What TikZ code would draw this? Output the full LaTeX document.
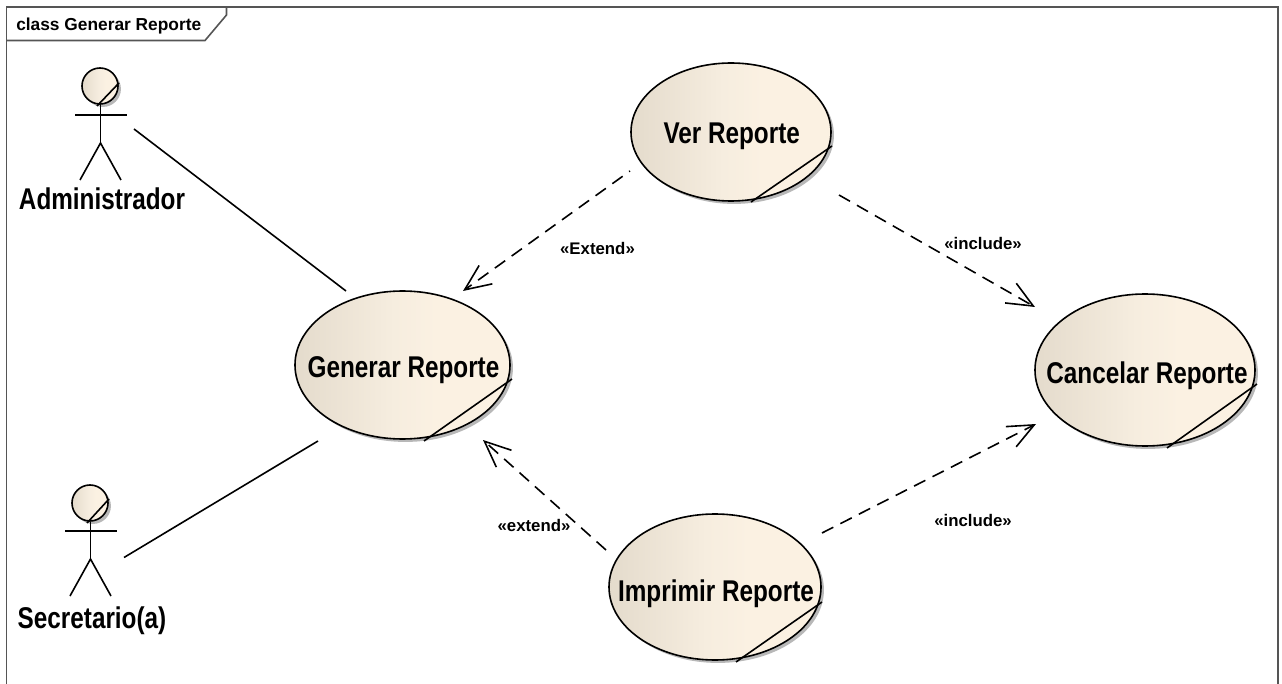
\documentclass[tikz,border=0pt]{standalone}
\usepackage{fontspec}
\setmainfont{Liberation Sans}
\newfontfamily\condfont[FakeStretch=0.81]{Liberation Sans}
\usetikzlibrary{shapes.geometric,arrows.meta,shadows}
\definecolor{ucL}{HTML}{E4DBCC}
\definecolor{ucM}{HTML}{F6EDDF}
\definecolor{ucR}{HTML}{FBF1E2}
\definecolor{frameC}{HTML}{555555}
\pgfdeclarehorizontalshading{ucshade}{100bp}{color(0bp)=(ucL); color(25bp)=(ucL); color(48bp)=(ucM); color(58bp)=(ucR); color(100bp)=(ucR)}
\tikzset{
  px/.style={x=0.75pt,y=-0.75pt},
  ln/.style={line width=1.2pt,black},
  dep/.style={ln,dash pattern=on 9.5pt off 6pt,-{Straight Barb[length=19.5pt,width=17pt,line width=1.2pt]}},
  usecase/.style={ellipse,draw=black,line width=1.2pt,inner sep=0pt,outer sep=0pt,
    shading=ucshade,drop shadow={shadow xshift=2.2pt,shadow yshift=-2.2pt,fill=black!28,opacity=1}},
  head/.style={usecase,minimum width=27pt,minimum height=27pt},
  uctext/.style={font=\condfont\bfseries\fontsize{22.5pt}{24pt}\selectfont,inner sep=0pt,anchor=base},
  small/.style={font=\bfseries\fontsize{12.6pt}{14pt}\selectfont,inner sep=0pt,anchor=base},
  title/.style={font=\bfseries\fontsize{13pt}{15pt}\selectfont,inner sep=0pt,anchor=base west},
}
\begin{document}
\begin{tikzpicture}[px]
\useasboundingbox[fill=white] (0,0) rectangle (1282,684);
% frame
\draw[frameC,line width=1.2pt] (6.5,684) -- (6.5,7) -- (1278,7) -- (1278,684);
\draw[frameC,line width=1.2pt] (6.5,40.5) -- (205,40.5) -- (226.5,15) -- (226.5,7);
\node[title] (frametitle) at (16,30.5) {class Generar Reporte};
% use cases
\node[usecase,minimum width=161.25pt,minimum height=111pt] (gen) at (402.5,365) {};
\node[usecase,minimum width=150pt,minimum height=103.5pt] (ver) at (731,132) {};
\node[usecase,minimum width=165pt,minimum height=114pt] (can) at (1145,370) {};
\node[usecase,minimum width=159pt,minimum height=109.5pt] (imp) at (715,587) {};
\node[uctext] (gent) at (403.5,378) {Generar Reporte};
\node[uctext] (vert) at (731.7,144) {Ver Reporte};
\node[uctext] (cant) at (1147,383) {Cancelar Reporte};
\node[uctext] (impt) at (716,601) {Imprimir Reporte};
% corner folds
\coordinate (genA) at (424,441); \coordinate (genB) at (512,379);
\coordinate (verA) at (751,202); \coordinate (verB) at (832,146);
\coordinate (canA) at (1167,448); \coordinate (canB) at (1257,384);
\coordinate (impA) at (736,662); \coordinate (impB) at (822,602);
\draw[ln] (genA) -- (genB);
\draw[ln] (verA) -- (verB);
\draw[ln] (canA) -- (canB);
\draw[ln] (impA) -- (impB);
% actor Administrador
\node[head] (h1) at (100,86) {};
\coordinate (h1a) at (97,106); \coordinate (h1b) at (119,83);
\coordinate (a1l) at (75,115); \coordinate (a1r) at (127,115);
\coordinate (b1t) at (100.5,104); \coordinate (b1b) at (100.5,143);
\coordinate (l1l) at (80,180); \coordinate (l1r) at (121,180);
\draw[ln] (h1a) -- (h1b);
\draw[ln] (a1l) -- (a1r);
\draw[ln] (b1t) -- (b1b);
\draw[ln] (l1l) -- (b1b) -- (l1r);
\node[uctext] (admin) at (102,210) {Administrador};
% actor Secretario
\node[head] (h2) at (90,503) {};
\coordinate (h2a) at (87,523); \coordinate (h2b) at (109,499);
\coordinate (a2l) at (65,531); \coordinate (a2r) at (117,531);
\coordinate (b2t) at (90.5,522); \coordinate (b2b) at (90.5,559);
\coordinate (l2l) at (70,596); \coordinate (l2r) at (111,596);
\draw[ln] (h2a) -- (h2b);
\draw[ln] (a2l) -- (a2r);
\draw[ln] (b2t) -- (b2b);
\draw[ln] (l2l) -- (b2b) -- (l2r);
\node[uctext] (secr) at (92,628) {Secretario(a)};
% associations
\coordinate (as1s) at (134,129); \coordinate (as1e) at (346,291);
\coordinate (as2s) at (124,557.5); \coordinate (as2e) at (318,441);
\draw[ln] (as1s) -- (as1e);
\draw[ln] (as2s) -- (as2e);
% dependencies
\coordinate (d1s) at (630,171); \coordinate (d1e) at (463,291);
\coordinate (d2s) at (839,195); \coordinate (d2e) at (1035,307);
\coordinate (d3s) at (606,550); \coordinate (d3e) at (483,440);
\coordinate (d4s) at (822,533); \coordinate (d4e) at (1036,424);
\draw[dep,dash pattern=on 9.5pt off 6pt,dash phase=8.7pt] (d1s) -- (d1e);
\draw[dep] (d2s) -- (d2e);
\draw[dep] (d3s) -- (d3e);
\draw[dep] (d4s) -- (d4e);
\node[small] (l1) at (597.5,255) {«Extend»};
\node[small] (l2) at (983,250) {«include»};
\node[small] (l3) at (534,531) {«extend»};
\node[small] (l4) at (973,526) {«include»};
\end{tikzpicture}
\end{document}
